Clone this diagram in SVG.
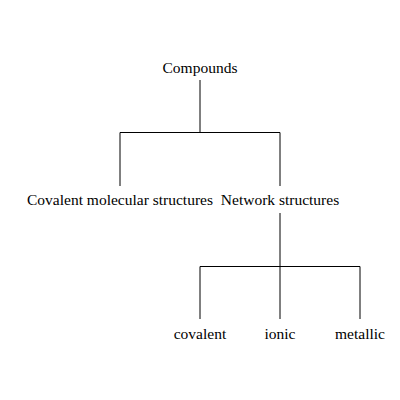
<svg xmlns="http://www.w3.org/2000/svg" width="400" height="400" viewBox="0 0 400 400">
<style>
text{font-family:"Liberation Serif","Times New Roman",serif;font-size:15.5px;fill:#000;text-anchor:middle}
.c line{stroke:#000;stroke-width:1}
</style>
<rect width="400" height="400" fill="#fff"/>
<g class="c" id="connectors">
<line x1="200" y1="80" x2="200" y2="132.5"/>
<line x1="120" y1="132.5" x2="280" y2="132.5"/>
<line x1="120" y1="132.5" x2="120" y2="186"/>
<line x1="280" y1="132.5" x2="280" y2="186"/>
<line x1="280" y1="213" x2="280" y2="266.5"/>
<line x1="200" y1="266.5" x2="360" y2="266.5"/>
<line x1="200" y1="266.5" x2="200" y2="319"/>
<line x1="280" y1="266.5" x2="280" y2="319"/>
<line x1="360" y1="266.5" x2="360" y2="319"/>
</g>
<g id="compounds"><text x="200" y="73">Compounds</text></g>
<g id="covalent-molecular"><text x="120" y="205">Covalent molecular structures</text></g>
<g id="network"><text x="280" y="205">Network structures</text></g>
<g id="covalent"><text x="200" y="339">covalent</text></g>
<g id="ionic"><text x="280" y="339">ionic</text></g>
<g id="metallic"><text x="360" y="339">metallic</text></g>
</svg>
